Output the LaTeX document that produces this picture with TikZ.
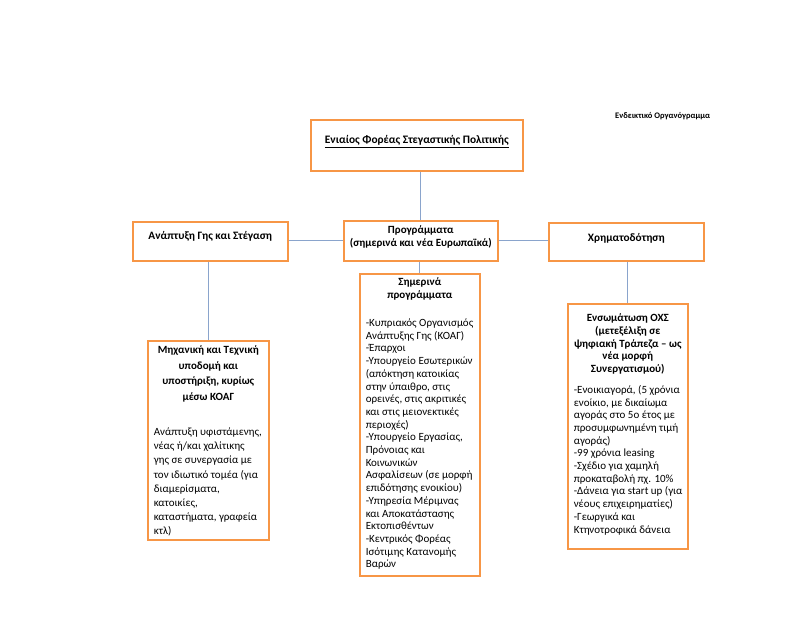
\documentclass[tikz,border=0pt]{standalone}
\usepackage{fontspec}
\setmainfont{Carlito}
\usetikzlibrary{positioning}
\definecolor{boxorange}{HTML}{F79646}
\definecolor{linkblue}{HTML}{8AA4CC}
\tikzset{
  box/.style={draw=boxorange, line width=1.6pt, fill=white, inner xsep=4pt, inner ysep=0pt, anchor=north west},
  link/.style={draw=linkblue, line width=1pt}
}
\newcommand{\cell}[3]{\parbox[c][#2][t]{#1}{\fontsize{11}{12.7}\selectfont #3}}
\begin{document}
\begin{tikzpicture}[x=1pt, y=-1pt]
\useasboundingbox[fill=white] (0,0) rectangle (800,618);

% title
\node[anchor=base west, inner sep=0pt, font=\fontsize{8.5}{10}\selectfont\bfseries] (title) at (615,118) {Ενδεικτικό Οργανόγραμμα};

% first level
\node[box] (head) at (310,119) {\cell{204pt}{51pt}{\centering\bfseries\fontsize{11.4}{13}\selectfont\rule{0pt}{24pt}\underline{Ενιαίος Φορέας Στεγαστικής Πολιτικής}}};

% second level
\node[box] (land) at (132,221) {\cell{147pt}{39pt}{\centering\bfseries\fontsize{11.3}{13}\selectfont\rule{0pt}{18pt}Ανάπτυξη Γης και Στέγαση}};
\node[box] (prog) at (343,220) {\cell{146pt}{40pt}{\centering\bfseries\fontsize{11}{13}\selectfont\rule{0pt}{13pt}Προγράμματα\\(σημερινά και νέα Ευρωπαϊκά)}};
\node[box] (fin) at (548,222) {\cell{147pt}{38pt}{\centering\bfseries\fontsize{11.3}{13}\selectfont\rule{0pt}{19pt}Χρηματοδότηση}};

% third level
\node[box] (tech) at (147,340) {\cell{113pt}{199pt}{%
  {\centering\bfseries\fontsize{11}{15.5}\selectfont\rule{0pt}{13pt}Μηχανική και Τεχνική\\υποδομή και\\υποστήριξη, κυρίως\\μέσω ΚΟΑΓ\par}
  \vspace{21pt}
  {\raggedright\leftskip=2pt\fontsize{11}{14.2}\selectfont Ανάπτυξη υφιστάμενης,\\νέας ή/και χαλίτικης\\γης σε συνεργασία με\\τον ιδιωτικό τομέα (για\\διαμερίσματα,\\κατοικίες,\\καταστήματα, γραφεία\\κτλ)\par}}};
\node[box] (today) at (359,273) {\cell{112pt}{302pt}{%
  {\centering\bfseries\fontsize{11}{13}\selectfont\rule{0pt}{12pt}Σημερινά\\προγράμματα\par}
  \vspace{15pt}
  {\raggedright\leftskip=2pt -Κυπριακός Οργανισμός\\Ανάπτυξης Γης (ΚΟΑΓ)\\-Έπαρχοι\\-Υπουργείο Εσωτερικών\\(απόκτηση κατοικίας\\στην ύπαιθρο, στις\\ορεινές, στις ακριτικές\\και στις μειονεκτικές\\περιοχές)\\-Υπουργείο Εργασίας,\\Πρόνοιας και\\Κοινωνικών\\Ασφαλίσεων (σε μορφή\\επιδότησης ενοικίου)\\-Υπηρεσία Μέριμνας\\και Αποκατάστασης\\Εκτοπισθέντων\\-Κεντρικός Φορέας\\Ισότιμης Κατανομής\\Βαρών\par}}};
\node[box] (merge) at (567,303) {\cell{112pt}{245pt}{%
  {\centering\bfseries\rule{0pt}{18pt}Ενσωμάτωση ΟΧΣ\\(μετεξέλιξη σε\\ψηφιακή Τράπεζα – ως\\νέα μορφή\\Συνεργατισμού)\par}
  \vspace{8pt}
  {\raggedright\leftskip=2pt -Ενοικιαγορά, (5 χρόνια\\ενοίκιο, με δικαίωμα\\αγοράς στο 5ο έτος με\\προσυμφωνημένη τιμή\\αγοράς)\\-99 χρόνια leasing\\-Σχέδιο για χαμηλή\\προκαταβολή πχ. 10\%\\-Δάνεια για start up (για\\νέους επιχειρηματίες)\\-Γεωργικά και\\Κτηνοτροφικά δάνεια\par}}};

% connectors
\draw[link] (prog.north) -- (prog.north |- head.south);
\draw[link] (prog.west) -- (prog.west -| land.east);
\draw[link] (prog.east) -- (prog.east -| fin.west);
\draw[link] (tech.north) -- (tech.north |- land.south);
\draw[link] (today.north) -- (today.north |- prog.south);
\draw[link] (merge.north) -- (merge.north |- fin.south);

\end{tikzpicture}
\end{document}
